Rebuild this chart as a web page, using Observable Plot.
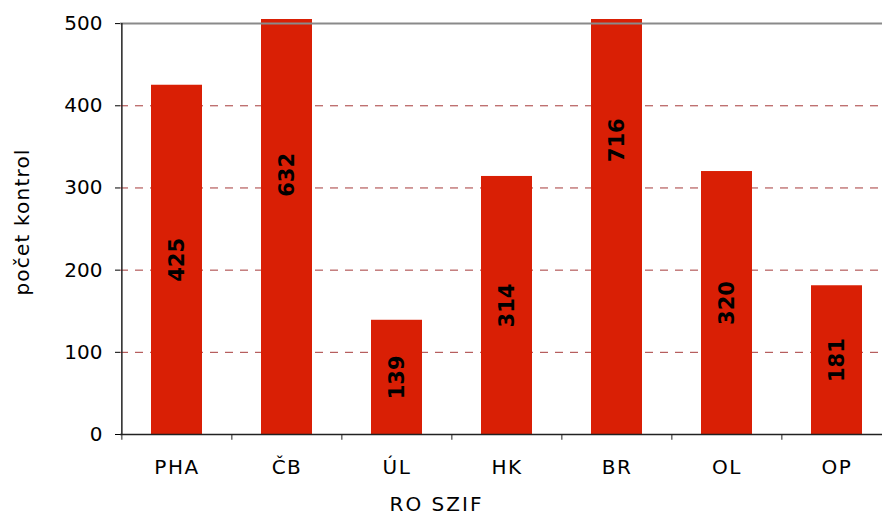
<!DOCTYPE html>
<html>
<head>
<meta charset="utf-8">
<script src="https://cdn.jsdelivr.net/npm/d3@7"></script>
<script src="https://cdn.jsdelivr.net/npm/@observablehq/plot@0.6"></script>
<style>
  html, body { margin: 0; padding: 0; background: white; overflow: hidden; }
  .xaxis text { letter-spacing: 1.5px; }
  .ytitle text { letter-spacing: 1.2px; }
  .xtitle text { letter-spacing: 2px; }
</style>
</head>
<body>
<div id="chart"></div>
<script>
const categories = ["PHA", "ČB", "ÚL", "HK", "BR", "OL", "OP"];
const values = [425, 632, 139, 314, 716, 320, 181];
const yTicks = [0, 100, 200, 300, 400, 500];
const gridTicks = [100, 200, 300, 400];
const yTitle = "počet kontrol";
const xTitle = "RO SZIF";

const data = categories.map((c, i) => ({region: c, count: values[i]}));

const chart = Plot.plot({
  width: 882,
  height: 515,
  marginTop: 19,
  marginBottom: 81,
  marginLeft: 120,
  marginRight: 0,
  style: {fontFamily: "DejaVu Sans", fontSize: "20px", color: "black", background: "white"},
  x: {domain: categories, range: [120, 892], paddingInner: 0.54, paddingOuter: 0.27, label: null},
  y: {domain: [0, 505], label: null},
  marks: [
    Plot.ruleY(gridTicks, {stroke: "#a63a3a", strokeDasharray: "8,7"}),
    Plot.barY(data, {x: "region", y: "count", fill: "#d91f05", clip: true}),
    Plot.ruleY([500], {stroke: "#8a8a8a", strokeWidth: 2}),
    Plot.ruleY([0], {stroke: "#222", strokeWidth: 1.5}),
    Plot.ruleX(categories.slice(0, 1), {x: d => d, dx: -55.14, y1: 0, y2: 500, stroke: "#222", strokeWidth: 1.5}),
    Plot.ruleX(categories, {x: d => d, dx: -55.14, y1: -7, y2: 0, stroke: "#222"}),
    Plot.axisY({ticks: yTicks, tickSize: 5, tickPadding: 13, label: null, fontSize: 20}),
    Plot.axisX({tickSize: 0, tickPadding: 25, label: null, fontSize: 20, className: "xaxis"}),
    Plot.text(data, {x: "region", y: d => d.count / 2, text: d => String(d.count), rotate: -90, fontWeight: "bold", fontSize: 21, fill: "black"}),
    Plot.text([yTitle], {frameAnchor: "left", textAnchor: "middle", lineAnchor: "middle", rotate: -90, dx: -97.5, dy: -5, fontSize: 20, className: "ytitle"}),
    Plot.text([xTitle], {frameAnchor: "bottom", textAnchor: "middle", lineAnchor: "middle", dx: -65, dy: 70, fontSize: 20, className: "xtitle"})
  ]
});
document.getElementById("chart").append(chart);
</script>
</body>
</html>
